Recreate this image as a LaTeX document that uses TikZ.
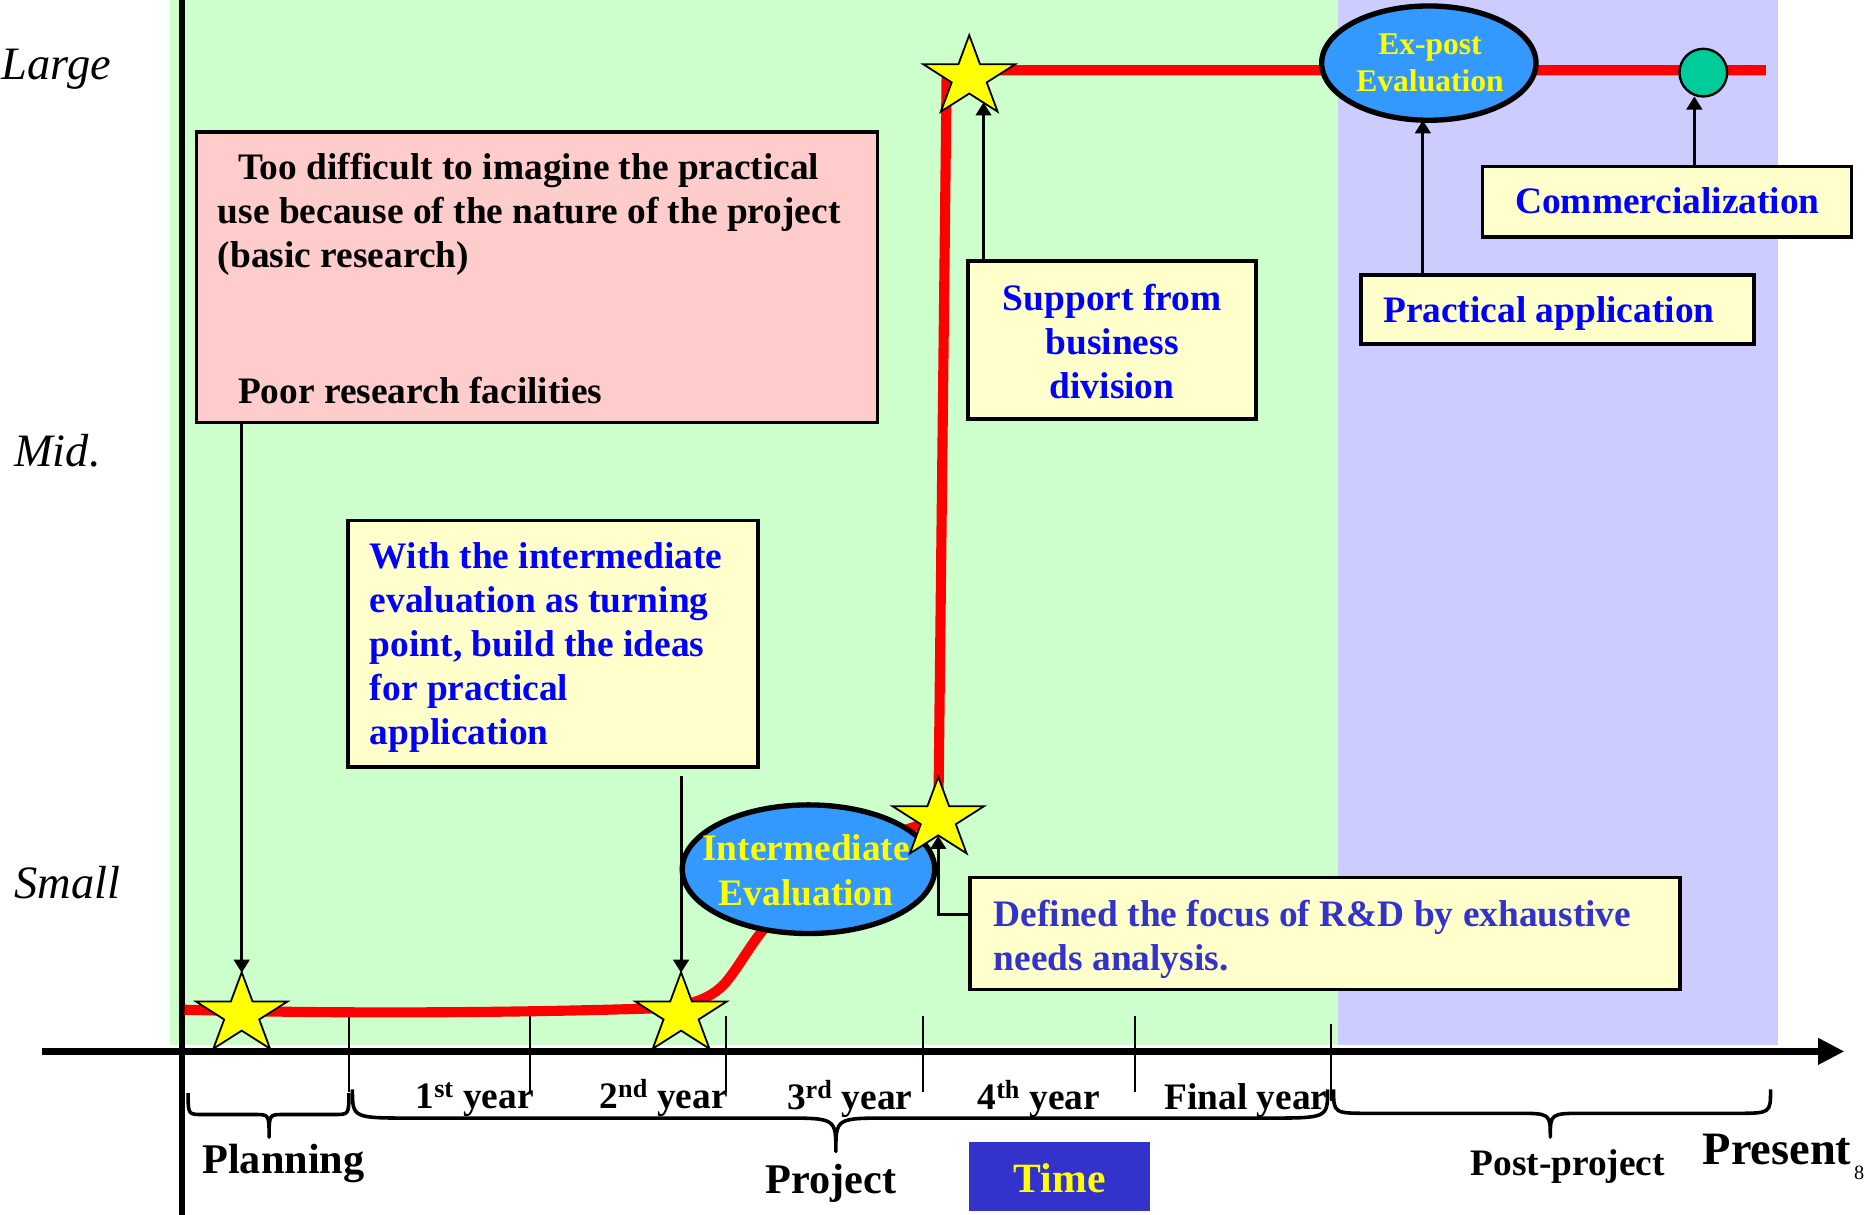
\documentclass[tikz,border=0pt]{standalone}
\usepackage{fontspec}
\setmainfont{Liberation Serif}
\usetikzlibrary{arrows.meta,shapes.geometric}

\definecolor{bggreen}{HTML}{CCFFCC}
\definecolor{bgviolet}{HTML}{CCCCFF}
\definecolor{notepink}{HTML}{FFCCCC}
\definecolor{notecream}{HTML}{FFFFCC}
\definecolor{evalblue}{HTML}{3399FF}
\definecolor{textblue}{HTML}{0000FF}
\definecolor{indigo}{HTML}{3333CC}
\definecolor{markgreen}{HTML}{00CC99}
\definecolor{pathred}{HTML}{FF0000}
\definecolor{staryellow}{HTML}{FFFF00}

% left-aligned (or centred) block of lines, baseline on the first line
\newcommand\stack[2][l]{\begin{tabular}[t]{@{}#1@{}}#2\end{tabular}}

% five-pointed star, slightly wider than tall
\newcommand\yellowstar[3]{%
  \coordinate (#1) at (#2,#3);
  \filldraw[starshape] (#2,#3-35.5)
    \foreach \k in {1,...,9}{
      -- ({#2+40.5*(1-0.618*mod(\k,2))*cos(90+36*\k)},{#3-35.5*(1-0.618*mod(\k,2))*sin(90+36*\k)})
    } -- cycle;
}

\begin{document}
\begin{tikzpicture}[x=1pt,y=-1pt,
  starshape/.style={fill=staryellow, draw=black, line width=1.5, line join=miter},
  notebox/.style={rectangle, draw=black, line width=3, inner sep=0, outer sep=0},
  evalell/.style={ellipse, draw=black, line width=4.5, fill=evalblue, inner sep=0, outer sep=0},
  arr/.style={line width=2.5, -{Triangle[length=11,width=13]}},
  tickline/.style={line width=1.5},
  bracket/.style={line width=3, line join=round},
  body/.style={font=\fontsize{31.4}{37}\selectfont\bfseries, inner sep=0, outer sep=0},
  level/.style={font=\fontsize{39}{44}\selectfont\itshape, inner sep=0, outer sep=0, anchor=base west},
]
\useasboundingbox (0,0) rectangle (1568,1020);

% project and post-project periods
\fill[bggreen] (143,0) rectangle (1124,878);
\fill[bgviolet] (1124,0) rectangle (1493,878);

% year ticks
\foreach \tx in {293,445,610,775,953}
  \draw[tickline] (\tx,853) -- (\tx,917);
\draw[tickline] (1118,860) -- (1118,925);

% axes
\draw[line width=5.5] (153,0) -- (153,1020);
\draw[line width=6, -{Triangle[length=22,width=21]}] (35,883) -- (1549,883);

% braces under the time axis
\draw[bracket] (158,918) .. controls (158,936) .. (170,936) -- (214,936)
  .. controls (226,936) .. (226,955) .. controls (226,936) .. (238,936)
  -- (281,936) .. controls (293,936) .. (293,918);
\draw[bracket] (296,915) .. controls (296,939) .. (346,939) -- (657,939)
  .. controls (702,939) .. (702,967) .. controls (702,939) .. (747,939)
  -- (1065,939) .. controls (1115,939) .. (1115,915);
\draw[bracket] (1120,915) .. controls (1120,935) .. (1150,935) -- (1273,935)
  .. controls (1302,935) .. (1302,955) .. controls (1302,935) .. (1331,935)
  -- (1458,935) .. controls (1487,935) .. (1487,915);

% degree of use over time
\draw[pathred, line width=8.5, line join=round]
  (155,848) .. controls (300,852) and (450,850) .. (545,847)
  .. controls (580,846) and (600,838) .. (612,822)
  .. controls (625,805) and (632,790) .. (650,770)
  -- (760,697) -- (788,688) -- (795,64) -- (801,59) -- (1483,59);

% evaluations and milestone
\node[evalell, minimum width=212, minimum height=108] (ieval) at (679,730) {};
\node[evalell, minimum width=180, minimum height=96] (expost) at (1200,53) {};
\node[circle, draw=black, line width=2, fill=markgreen, minimum size=40, inner sep=0, outer sep=0] (comm) at (1430.5,61) {};

% turning points
\yellowstar{s1}{203}{852}
\yellowstar{s2}{572}{852}
\yellowstar{s3}{788}{688}
\yellowstar{s4}{814}{65}
\coordinate (s1t) at (203,817);
\coordinate (s2t) at (572,817);
\coordinate (s3b) at (788,702);
\coordinate (s4b) at (826,86);
\coordinate (pa) at (1195,0);
\coordinate (ca) at (1423,81);

% notes
\node[notebox, fill=notepink, minimum width=572, minimum height=244] (obst) at (451,233) {};
\node[notebox, fill=notecream, minimum width=344, minimum height=207] (idea) at (464.5,540.5) {};
\node[notebox, fill=notecream, minimum width=242, minimum height=133] (support) at (934,285.5) {};
\node[notebox, fill=notecream, minimum width=330, minimum height=58] (practical) at (1308,260) {};
\node[notebox, fill=notecream, minimum width=310, minimum height=59] (commer) at (1400,169.5) {};
\node[notebox, fill=notecream, minimum width=596, minimum height=94] (focus) at (1112.75,784) {};
\node[rectangle, fill=indigo, minimum width=152, minimum height=58, inner sep=0] (timebox) at (890,988) {};

% connectors
\draw[arr] (obst.south -| s1t) -- (s1t);
\draw[arr, shorten <=8] (idea.south -| s2t) -- (s2t);
\draw[arr] ([yshift=16pt]focus.west) -| (s3b);
\draw[arr] (support.north -| s4b) -- (s4b);
\draw[arr] (practical.north -| pa) -- (expost.south -| pa);
\draw[arr] (commer.north -| ca) -- (ca);

% texts in notes
\node[body, anchor=base west] (tobst) at (183,151)
  {\stack{\hspace{17pt}Too difficult to imagine the practical\\use because of the nature of the project\\(basic research)}};
\node[body, anchor=base west] (tfac) at (200,338.6) {Poor research facilities};
\node[body, anchor=base west, text=textblue] (tidea) at (310.7,477.3)
  {\stack{With the intermediate\\evaluation as turning\\point, build the ideas\\for practical\\application}};
\node[body, anchor=base, text=textblue] (tsupport) at (934,260.4)
  {\stack[c]{Support from\\business\\division}};
\node[body, anchor=base west, text=textblue] (tpractical) at (1161.7,271) {Practical application};
\node[body, anchor=base west, text=textblue] (tcommer) at (1272.5,179.2) {Commercialization};
\node[body, anchor=base west, text=indigo] (tfocus) at (834.5,778.3)
  {\stack{Defined the focus of R\&D by exhaustive\\needs analysis.}};
\node[body, anchor=base, text=staryellow, font=\fontsize{31.4}{38.3}\selectfont\bfseries] (tieval) at (677,722.3)
  {\stack[c]{Intermediate\\Evaluation}};
\node[body, anchor=base, text=staryellow, font=\fontsize{26.5}{31}\selectfont\bfseries] (texpost) at (1201,46)
  {\stack[c]{Ex-post\\Evaluation}};
\node[body, anchor=base, text=staryellow, font=\fontsize{35}{40}\selectfont\bfseries] (ttime) at (890,1001.7) {Time};

% scale of use
\node[level] (large) at (1.4,67) {Large};
\node[level] (mid) at (12,392) {Mid.};
\node[level] (small) at (12,755) {Small};

% periods
\node[body, anchor=base west] (y1) at (349,931) {1\textsuperscript{st} year};
\node[body, anchor=base west] (y2) at (503.5,931) {2\textsuperscript{nd} year};
\node[body, anchor=base west] (y3) at (661,932) {3\textsuperscript{rd} year};
\node[body, anchor=base west] (y4) at (821,932) {4\textsuperscript{th} year};
\node[body, anchor=base west] (y5) at (978,932) {Final year};
\node[body, anchor=base west, font=\fontsize{35.5}{40}\selectfont\bfseries] (planning) at (170,985.4) {Planning};
\node[body, anchor=base west, font=\fontsize{35.5}{40}\selectfont\bfseries] (project) at (643,1002) {Project};
\node[body, anchor=base west] (post) at (1235,987) {Post-project};
\node[body, anchor=base west, font=\fontsize{39}{43}\selectfont\bfseries] (present) at (1430,978.4) {Present};
\node[anchor=base west, inner sep=0, font=\fontsize{17}{19}\selectfont] (pageno) at (1557,991) {8};
\end{tikzpicture}
\end{document}
